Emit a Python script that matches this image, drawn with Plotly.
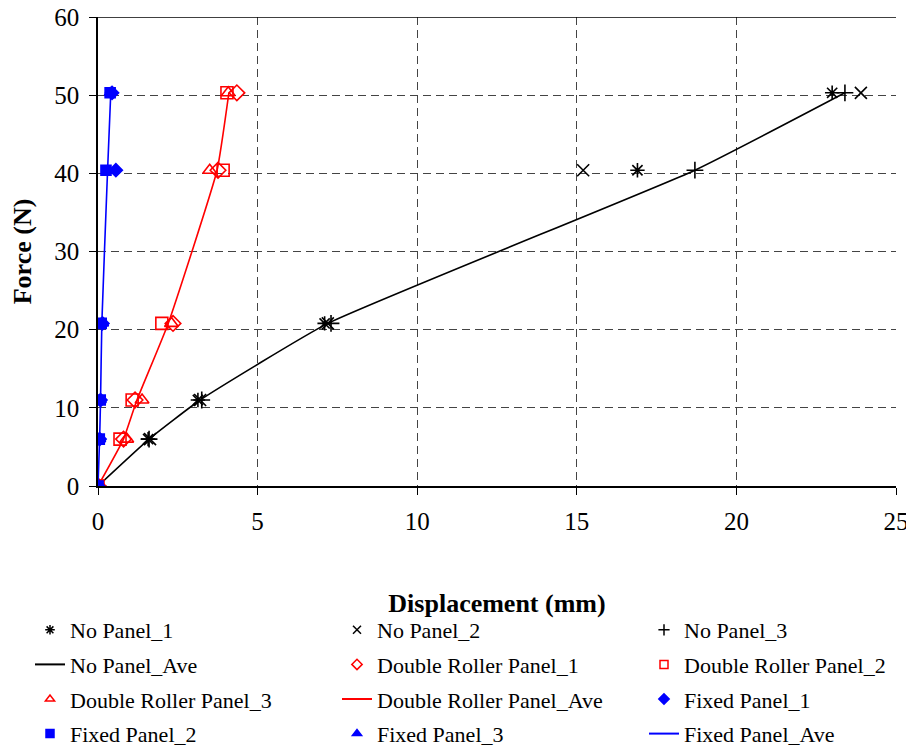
import plotly.graph_objects as go

# Force levels (N)
force = [0, 6, 11, 20.8, 40.4, 50.3]

# Displacements (mm)
no_panel_1 = [0, 1.57, 3.13, 7.1, 16.9, 23.0]
no_panel_2 = [0, 1.63, 3.2, 7.2, 15.2, 23.9]
no_panel_3 = [0, 1.6, 3.25, 7.3, 18.7, 23.4]
no_panel_ave = [0, 1.6, 3.2, 7.2, 18.7, 23.4]

dr_panel_1 = [0, 0.8, 1.16, 2.35, 3.76, 4.35]
dr_panel_2 = [0, 0.69, 1.07, 2.0, 3.92, 4.04]
dr_panel_3 = [0, 0.9, 1.38, 2.3, 3.5, 4.08]
dr_panel_ave = [0, 0.8, 1.22, 2.2, 3.73, 4.1]

fx_panel_1 = [0, 0.05, 0.08, 0.14, 0.56, 0.44]
fx_panel_2 = [0, 0.04, 0.07, 0.1, 0.25, 0.38]
fx_panel_3 = [0, 0.06, 0.08, 0.15, 0.3, 0.38]
fx_panel_ave = [0, 0.05, 0.08, 0.12, 0.3, 0.4]

BLACK = "#000000"
RED = "#FF0000"
BLUE = "#0000FF"
FONT = "Liberation Serif"

series = [
    # name, x, kind, color, symbol, legend column
    ("No Panel_1", no_panel_1, "m", BLACK, "asterisk-open", "legend"),
    ("No Panel_2", no_panel_2, "m", BLACK, "x-thin-open", "legend2"),
    ("No Panel_3", no_panel_3, "m", BLACK, "cross-thin-open", "legend3"),
    ("No Panel_Ave", no_panel_ave, "l", BLACK, None, "legend"),
    ("Double Roller Panel_1", dr_panel_1, "m", RED, "diamond-open", "legend2"),
    ("Double Roller Panel_2", dr_panel_2, "m", RED, "square-open", "legend3"),
    ("Double Roller Panel_3", dr_panel_3, "m", RED, "triangle-up-open", "legend"),
    ("Double Roller Panel_Ave", dr_panel_ave, "l", RED, None, "legend2"),
    ("Fixed Panel_1", fx_panel_1, "m", BLUE, "diamond", "legend3"),
    ("Fixed Panel_2", fx_panel_2, "m", BLUE, "square", "legend"),
    ("Fixed Panel_3", fx_panel_3, "m", BLUE, "triangle-up", "legend2"),
    ("Fixed Panel_Ave", fx_panel_ave, "l", BLUE, None, "legend3"),
]

fig = go.Figure()

# plotted traces (drawn black, then red, then blue)
for name, xs, kind, color, sym, lg in series:
    if kind == "l":
        fig.add_trace(go.Scatter(
            x=xs, y=force, mode="lines", name=name, showlegend=False,
            line=dict(color=color, width=1.6, shape="spline", smoothing=0.4)))
    else:
        size = 12 if "open" in sym else 10
        fig.add_trace(go.Scatter(
            x=xs, y=force, mode="markers", name=name, showlegend=False,
            marker=dict(symbol=sym, size=size, color=color,
                        line=dict(color=color, width=1.6))))

# legend entries (smaller symbols, like the reference key)
for name, xs, kind, color, sym, lg in series:
    if kind == "l":
        fig.add_trace(go.Scatter(
            x=[None], y=[None], mode="lines", name=name, legend=lg,
            legendgroup=name, line=dict(color=color, width=2)))
    else:
        fig.add_trace(go.Scatter(
            x=[None], y=[None], mode="markers", name=name, legend=lg,
            legendgroup=name,
            marker=dict(symbol=sym, size=8, color=color,
                        line=dict(color=color, width=1.5))))

W, H = 906, 743  # page body adds an 8px offset
ML, MR, MT, MB = 90, 18, 9, 265
PW, PH = W - ML - MR, H - MT - MB
col_x = [22, 329, 636]      # figure px of each legend column
legend_top = 601            # figure px

legend_common = dict(
    orientation="v", xref="paper", yref="paper",
    xanchor="left", yanchor="top", y=(H - MB - legend_top) / PH,
    tracegroupgap=3, itemclick=False, itemdoubleclick=False,
    font=dict(family=FONT, size=22, color="black"),
    bgcolor="rgba(0,0,0,0)",
)

fig.update_layout(
    width=W, height=H,
    margin=dict(l=ML, r=MR, t=MT, b=MB, autoexpand=False),
    plot_bgcolor="white", paper_bgcolor="white",
    font=dict(family=FONT, size=25, color="black"),
    legend=dict(**legend_common, x=(col_x[0] - ML) / PW),
    legend2=dict(**legend_common, x=(col_x[1] - ML) / PW),
    legend3=dict(**legend_common, x=(col_x[2] - ML) / PW),
    xaxis=dict(
        range=[0, 25], dtick=5, showgrid=True, gridcolor="#444444",
        griddash="8px,5px", gridwidth=1, zeroline=False,
        showline=True, linecolor="black", linewidth=1.5,
        ticks="outside", ticklen=7, tickcolor="black",
        ticklabelstandoff=5, ticklabeloverflow="allow",
        tickfont=dict(family=FONT, size=25),
        title=dict(text="<b>Displacement (mm)</b>", standoff=60,
                   font=dict(family=FONT, size=26)),
        automargin=False,
    ),
    yaxis=dict(
        range=[0, 60], dtick=10, showgrid=True, gridcolor="#444444",
        griddash="8px,5px", gridwidth=1, zeroline=False,
        showline=True, linecolor="black", linewidth=1.5,
        ticks="outside", ticklen=7, tickcolor="black",
        ticklabelstandoff=5, ticklabeloverflow="allow",
        tickfont=dict(family=FONT, size=25),
        title=dict(text="<b>Force (N)</b>", standoff=18,
                   font=dict(family=FONT, size=26)),
        automargin=False,
    ),
    shapes=[dict(type="line", xref="paper", yref="y", x0=-0.01, x1=1,
                 y0=60, y1=60, line=dict(color="black", width=1.5))],
)

fig.write_html("out.html")
